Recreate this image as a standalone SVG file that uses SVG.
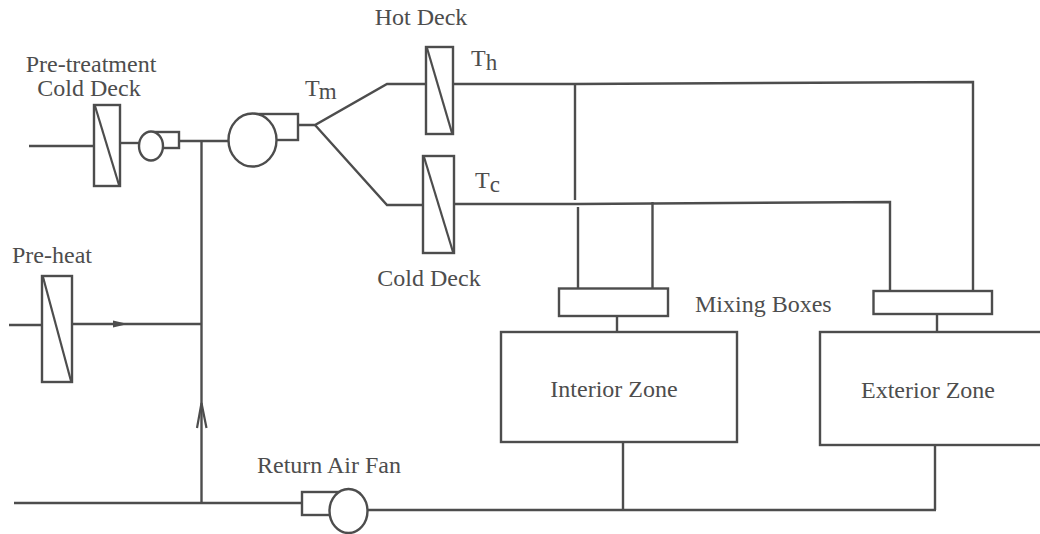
<svg xmlns="http://www.w3.org/2000/svg" width="1040" height="534" viewBox="0 0 1040 534">
<style>
.l{fill:none;stroke:#4d4d4d;stroke-width:2.4;stroke-linejoin:miter}
.s{fill:#fff;stroke:#4d4d4d;stroke-width:2.4}
.d{fill:none;stroke:#4d4d4d;stroke-width:2.2}
text{font-family:"Liberation Serif","Times New Roman",serif;font-size:24px;fill:#4d4d4d}
.sub{font-size:23px}
</style>
<rect width="1040" height="534" fill="#fff"/>
<g id="connectors">
<path class="l" d="M29 146H94"/>
<path class="l" d="M120 143H140"/>
<path class="l" d="M179 141H230"/>
<path class="l" d="M201.500 141V503"/>
<path class="l" d="M298 125H315L387 84H426"/>
<path class="l" d="M315 125L387 205H423"/>
<path class="l" d="M453 84H575L973 82V291"/>
<path class="l" d="M575 84V200"/>
<path class="l" d="M454 204H578L890 202V291"/>
<path class="l" d="M578 207V289"/>
<path class="l" d="M652.500 202V289"/>
<path class="l" d="M617 316V332"/>
<path class="l" d="M937 314V332"/>
<path class="l" d="M9 325H42"/>
<path class="l" d="M72 324H201"/>
<path class="l" d="M14 503H302"/>
<path class="l" d="M368 510H936"/>
<path class="l" d="M623 442V510"/>
<path class="l" d="M935 445V510"/>
<path fill="#4d4d4d" d="M113 320.500L128 324L113 327.500Z"/>
<path class="d" d="M197 428L201.500 403L206.500 428"/>
</g>
<g id="pretreatment-cold-deck"><rect class="s" x="94" y="105" width="26" height="81"/><path class="d" d="M95 106L119 185"/></g>
<g id="supply-fan-small"><rect class="s" x="155" y="132" width="24" height="16"/><ellipse class="s" cx="151" cy="146" rx="12" ry="14.500"/></g>
<g id="supply-fan"><rect class="s" x="255" y="114" width="43" height="26"/><ellipse class="s" cx="252.500" cy="140" rx="24" ry="26.500"/></g>
<g id="hot-deck"><rect class="s" x="426" y="47" width="27" height="87"/><path class="d" d="M427 48L452 133"/></g>
<g id="cold-deck"><rect class="s" x="423" y="156" width="31" height="97"/><path class="d" d="M424 157L453 252"/></g>
<g id="pre-heat"><rect class="s" x="42" y="276" width="30" height="106"/><path class="d" d="M43 277L71 381"/></g>
<g id="mixing-box-interior"><rect class="s" x="559" y="288.500" width="109" height="27.500"/></g>
<g id="mixing-box-exterior"><rect class="s" x="873.500" y="291" width="118.500" height="23"/></g>
<g id="interior-zone"><rect class="s" x="501" y="332" width="236" height="110"/><text x="614" y="397" text-anchor="middle">Interior Zone</text></g>
<g id="exterior-zone"><rect class="s" x="820" y="332" width="230" height="113"/><text x="928" y="398" text-anchor="middle">Exterior Zone</text></g>
<g id="return-air-fan"><rect class="s" x="302" y="492" width="36" height="23"/><ellipse class="s" cx="348.500" cy="511" rx="19" ry="22"/></g>
<g id="labels">
<text x="91" y="72" text-anchor="middle">Pre-treatment</text>
<text x="89" y="96" text-anchor="middle">Cold Deck</text>
<text x="421" y="25" text-anchor="middle">Hot Deck</text>
<text x="429" y="286" text-anchor="middle">Cold Deck</text>
<text x="12" y="263">Pre-heat</text>
<text x="329" y="473" text-anchor="middle">Return Air Fan</text>
<text x="695" y="312">Mixing Boxes</text>
<text x="305" y="96">T<tspan class="sub" dy="3" dx="-1">m</tspan></text>
<text x="471" y="66">T<tspan class="sub" dy="4" dx="0">h</tspan></text>
<text x="475" y="188">T<tspan class="sub" dy="4" dx="0">c</tspan></text>
</g>
</svg>
